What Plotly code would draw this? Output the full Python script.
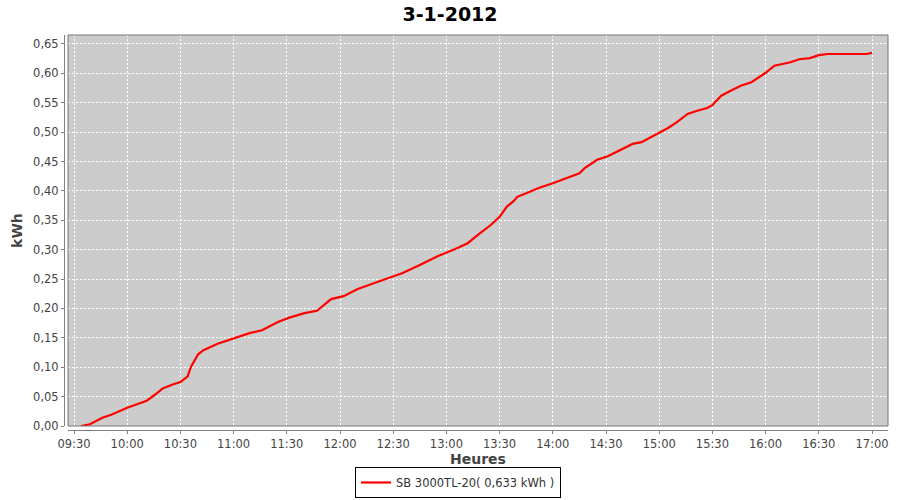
import plotly.graph_objects as go

day = "2012-01-03"
times = ["09:34", "09:39", "09:46", "09:51", "10:00", "10:08", "10:11", "10:16", "10:20", "10:26",
         "10:30", "10:34", "10:36", "10:40", "10:43", "10:51", "10:56", "11:02", "11:09", "11:16",
         "11:25", "11:31", "11:40", "11:47", "11:50", "11:55", "12:02", "12:10", "12:21", "12:35",
         "12:45", "12:55", "13:05", "13:12", "13:19", "13:25", "13:30", "13:34", "13:38", "13:40",
         "13:45", "13:52", "14:00", "14:08", "14:15", "14:18", "14:25", "14:31", "14:38", "14:45",
         "14:50", "14:59", "15:05", "15:10", "15:16", "15:21", "15:27", "15:30", "15:35", "15:40",
         "15:46", "15:52", "16:00", "16:05", "16:14", "16:19", "16:25", "16:30", "16:35", "16:57",
         "17:00"]
energy_kwh = [0.000, 0.003, 0.014, 0.019, 0.031, 0.039, 0.043, 0.054, 0.064, 0.071,
              0.075, 0.084, 0.101, 0.122, 0.129, 0.140, 0.145, 0.150, 0.158, 0.163,
              0.177, 0.184, 0.192, 0.196, 0.204, 0.216, 0.221, 0.233, 0.245, 0.260,
              0.274, 0.289, 0.301, 0.311, 0.328, 0.342, 0.356, 0.373, 0.383, 0.390,
              0.396, 0.405, 0.413, 0.422, 0.430, 0.439, 0.453, 0.459, 0.470, 0.480,
              0.483, 0.498, 0.507, 0.517, 0.531, 0.536, 0.541, 0.546, 0.562, 0.570,
              0.579, 0.585, 0.601, 0.613, 0.619, 0.624, 0.626, 0.631, 0.633, 0.633,
              0.635]
series_name = "SB 3000TL-20( 0,633 kWh )"
title_text = "3-1-2012"
x_title = "Heures"
y_title = "kWh"

x_vals = [f"{day} {t}" for t in times]

FONT = "DejaVu Sans"
AXIS_GRAY = "#808080"
TICK_COLOR = "#444444"

fig = go.Figure()
fig.add_trace(go.Scatter(
    x=x_vals, y=energy_kwh, mode="lines", name=series_name,
    line=dict(color="#FF0000", width=2.2),
))

fig.update_layout(
    width=900, height=500,
    margin=dict(l=64, r=12, t=35, b=70, autoexpand=False),
    paper_bgcolor="white",
    plot_bgcolor="#CCCCCC",
    separators=", ",
    font=dict(family=FONT, size=12, color=TICK_COLOR),
    title=dict(text=f"<b>{title_text}</b>", x=0.5, xanchor="center", y=1 - 14 / 500,
               yanchor="middle", font=dict(family=FONT, size=19, color="#000000")),
    showlegend=True,
    legend=dict(orientation="h", x=(458 - 64) / 824, xanchor="center", y=-(498 - 430) / 395,
                yanchor="bottom",
                bordercolor="#000000", borderwidth=1, bgcolor="white",
                font=dict(family=FONT, size=11.5, color="#333333"),
                itemwidth=30, tracegroupgap=0),
    xaxis=dict(
        type="date",
        domain=[4 / 824, 1],
        anchor="free", position=0,
        automargin=False,
        range=[f"{day} 09:26:37", f"{day} 17:09:01"],
        tick0=f"{day} 09:30", dtick=30 * 60 * 1000, tickformat="%H:%M",
        showgrid=True, gridcolor="white", griddash="2px,2px", gridwidth=1,
        showline=True, linecolor=AXIS_GRAY, linewidth=1,
        ticks="outside", ticklen=3, tickcolor=AXIS_GRAY,
        tickfont=dict(family=FONT, size=11.5, color=TICK_COLOR),
        title=dict(text=f"<b>{x_title}</b>", font=dict(family=FONT, size=14, color="#444444"), standoff=4),
        zeroline=False,
    ),
    yaxis=dict(
        domain=[4 / 395, 1],
        anchor="free", position=0,
        automargin=False,
        range=[0, 0.6653],
        tick0=0, dtick=0.05, tickformat=".2f",
        showgrid=True, gridcolor="white", griddash="2px,2px", gridwidth=1,
        showline=True, linecolor=AXIS_GRAY, linewidth=1,
        ticks="outside", ticklen=3, tickcolor=AXIS_GRAY,
        tickfont=dict(family=FONT, size=11.5, color=TICK_COLOR),
        title=dict(text=f"<b>{y_title}</b>", font=dict(family=FONT, size=14, color="#444444"), standoff=6),
        zeroline=False,
    ),
    shapes=[dict(type="rect", xref="x domain", yref="y domain", x0=0, x1=1, y0=0, y1=1,
                 line=dict(color="#777777", width=1), fillcolor="rgba(0,0,0,0)", layer="above")],
)

fig.write_html("out.html",
               config={"displayModeBar": False},
               post_script="document.body.style.margin='0';document.body.style.overflow='hidden';")
